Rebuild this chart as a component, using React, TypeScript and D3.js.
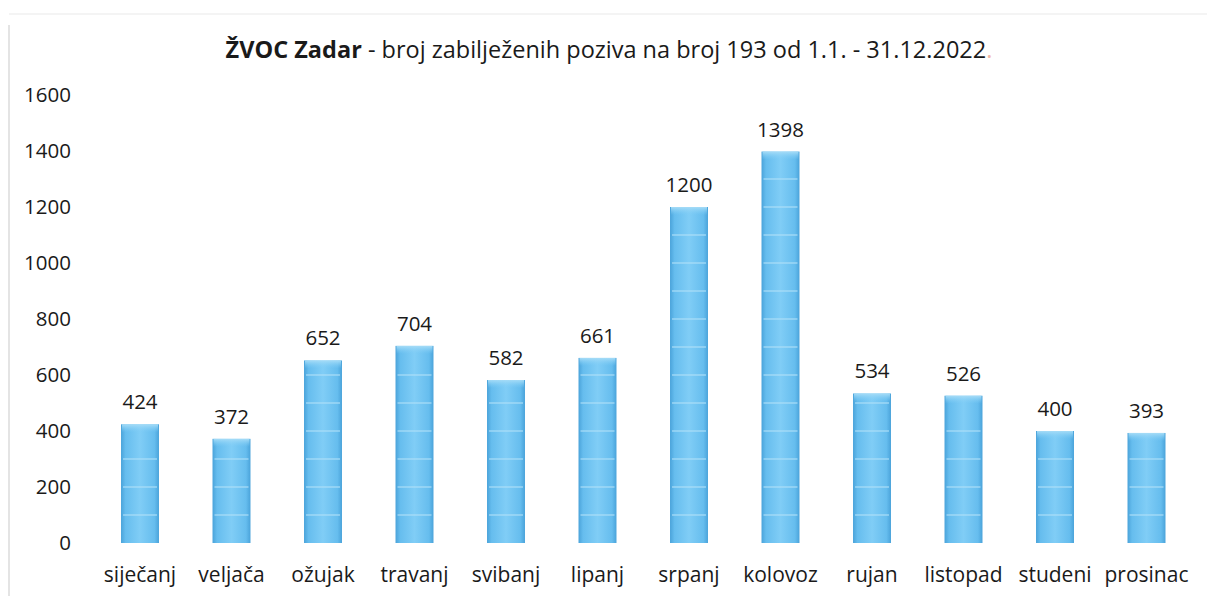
import React from "react";
import * as d3 from "d3";

const months = ["siječanj","veljača","ožujak","travanj","svibanj","lipanj","srpanj","kolovoz","rujan","listopad","studeni","prosinac"];
const calls = [424,372,652,704,582,661,1200,1398,534,526,400,393];
const yTicks = [0,200,400,600,800,1000,1200,1400,1600];
const stripeValues = [100,200,300,400,500,600,700,800,900,1000,1100,1200,1300];

const W = 1207, H = 596;
const FONT = "'Open Sans', 'Noto Sans', sans-serif";

export default function App() {
  const x = d3.scaleBand<string>().domain(months).range([94.25, 1192.25]).paddingInner(0.585).paddingOuter(0.2925);
  const y = d3.scaleLinear().domain([0, 1600]).range([543, 95]);
  const bw = x.bandwidth();
  return (
    <svg width={W} height={H} style={{ position: "absolute", left: 0, top: 0, background: "#fff" }}>
      <defs>
        <linearGradient id="barg" x1="0" x2="1" y1="0" y2="0">
          <stop offset="0" stopColor="#4aa3da" />
          <stop offset="0.12" stopColor="#66bdee" />
          <stop offset="0.5" stopColor="#80cdf6" />
          <stop offset="0.88" stopColor="#66bdee" />
          <stop offset="1" stopColor="#4aa3da" />
        </linearGradient>
        <linearGradient id="capg" x1="0" x2="0" y1="0" y2="1">
          <stop offset="0" stopColor="#a6dcf7" />
          <stop offset="1" stopColor="#80cdf6" stopOpacity={0} />
        </linearGradient>
      </defs>
      <line x1={9} x2={9} y1={25} y2={596} stroke="#e4e4e4" strokeWidth={2} />
      <line x1={9} x2={1207} y1={14} y2={14} stroke="#f4f4f4" strokeWidth={2} />
      <text x={609} y={58} textAnchor="middle" fontFamily={FONT} fontSize={23.5} fill="#1a1a1a">
        <tspan fontWeight="bold">ŽVOC Zadar</tspan>
        <tspan> - broj zabilježenih poziva na broj 193 od 1.1. - 31.12.2022</tspan>
        <tspan fill="#f2b8a8">.</tspan>
      </text>
      {yTicks.map(t => (
        <text key={t} x={71} y={y(t)} dy="0.36em" textAnchor="end" fontFamily={FONT} fontSize={20.5} fontWeight={500} fill="#1a1a1a">{t}</text>
      ))}
      {months.map((m, i) => {
        const v = calls[i];
        const x0 = x(m)!;
        const top = y(v);
        return (
          <g key={m}>
            <rect x={x0} y={top} width={bw} height={y(0) - top} fill="url(#barg)" />
            <rect x={x0 + 1} y={top} width={bw - 2} height={8} fill="url(#capg)" />
            {stripeValues.filter(s => s < v - 30).map(s => (
              <line key={s} x1={x0 + 2} x2={x0 + bw - 2} y1={y(s)} y2={y(s)} stroke="#b0e1f9" strokeWidth={1.5} opacity={0.75} />
            ))}
            <text x={x0 + bw / 2} y={top - 15} textAnchor="middle" fontFamily={FONT} fontSize={20.5} fontWeight={500} fill="#1a1a1a">{v}</text>
            <text x={x0 + bw / 2} y={582} textAnchor="middle" fontFamily={FONT} fontSize={21} fontWeight={500} fill="#1a1a1a">{m}</text>
          </g>
        );
      })}
    </svg>
  );
}
